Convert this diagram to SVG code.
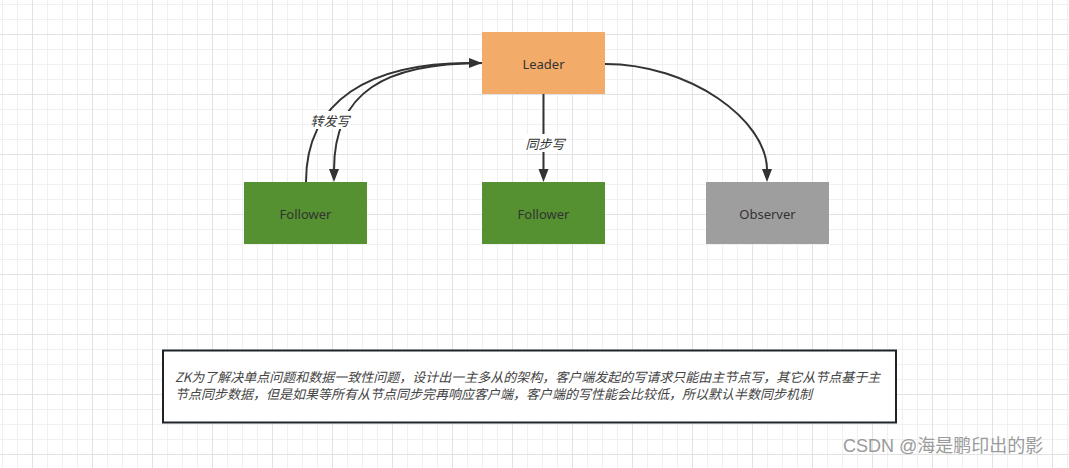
<svg xmlns="http://www.w3.org/2000/svg" width="1069" height="468" viewBox="0 0 1069 468">
<style>
.node text{font-family:"Noto Sans","Noto Sans CJK SC",sans-serif;font-size:13px;fill:#333;text-anchor:middle;dominant-baseline:central}
.edge{fill:none;stroke:#333;stroke-width:2}
.head{fill:#333}
.lbl{font-family:"Noto Sans CJK SC",sans-serif;font-size:13px;font-style:italic;fill:#333;text-anchor:middle;dominant-baseline:central}
.note{font-family:"Noto Sans CJK SC",sans-serif;font-size:13px;font-style:italic;fill:#444}
</style>
<defs>
<pattern id="grid" patternUnits="userSpaceOnUse" x="32" y="34" width="60" height="60">
<path d="M15.5 0V60M30.5 0V60M45.5 0V60M0 15.5H60M0 30.5H60M0 45.5H60" stroke="#f0f0f0" stroke-width="1" fill="none"/>
<path d="M0.5 0V60M0 0.5H60" stroke="#e2e2e2" stroke-width="1" fill="none"/>
</pattern>
</defs>
<rect width="1069" height="468" fill="#fff"/>
<rect width="1069" height="468" fill="url(#grid)"/>
<g id="connectors">
<path class="edge" d="M306 182C306 100 370 63 470 63"/>
<path class="head" d="M469 58L482 63L469 68Z"/>
<path class="edge" d="M482 63C385 63 334 92 334 170"/>
<path class="head" d="M329 169L334 182L339 169Z"/>
<path class="edge" d="M543.5 94V170"/>
<path class="head" d="M538.5 169L543.5 182L548.5 169Z"/>
<path class="edge" d="M605 64C690 64 767 120 767 170"/>
<path class="head" d="M762 169L767 182L772 169Z"/>
<rect x="309" y="111" width="42" height="18" fill="#fff"/>
<text class="lbl" x="330" y="120">转发写</text>
<rect x="524" y="134" width="42" height="18" fill="#fff"/>
<text class="lbl" x="545" y="143">同步写</text>
</g>
<g id="leader" class="node"><rect x="482" y="32" width="123" height="62" fill="#f2ab69"/><text x="543.5" y="64">Leader</text></g>
<g id="follower1" class="node"><rect x="244" y="182" width="123" height="62" fill="#559130"/><text x="305.5" y="214">Follower</text></g>
<g id="follower2" class="node"><rect x="482" y="182" width="123" height="62" fill="#559130"/><text x="543.5" y="214">Follower</text></g>
<g id="observer" class="node"><rect x="706" y="182" width="123" height="62" fill="#9e9e9e"/><text x="767.5" y="214">Observer</text></g>
<g id="note">
<rect x="163" y="350.5" width="733" height="72" fill="#fff" stroke="#1e2328" stroke-width="2"/>
<text class="note" x="175" y="382">ZK为了解决单点问题和数据一致性问题，设计出一主多从的架构，客户端发起的写请求只能由主节点写，其它从节点基于主</text>
<text class="note" x="175" y="399">节点同步数据，但是如果等所有从节点同步完再响应客户端，客户端的写性能会比较低，所以默认半数同步机制</text>
</g>
<text x="843" y="452" font-family="'Liberation Sans','Noto Sans CJK SC',sans-serif" font-size="18" fill="#9a9a9a">CSDN @海是鹏印出的影</text>
</svg>
